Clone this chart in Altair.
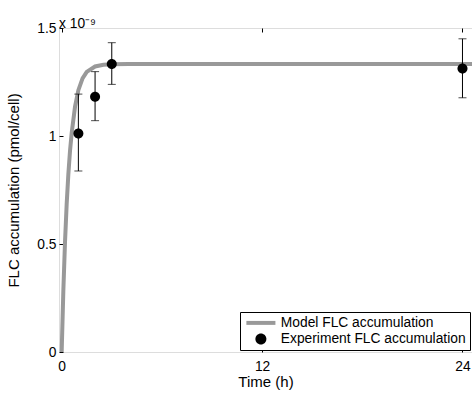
import altair as alt
import pandas as pd

# Model curve, values in units of 1e-9 pmol/cell
model_t = [0, 0.1, 0.2, 0.3, 0.4, 0.5, 0.6, 0.8, 1.0, 1.25, 1.5, 2.0, 2.5, 3.0, 4.0, 6.0, 12.0, 18.0, 24.0, 24.57]
model_v = [0, 0.284, 0.51, 0.686, 0.823, 0.931, 1.014, 1.136, 1.212, 1.267, 1.297, 1.322, 1.330, 1.332,
           1.333, 1.333, 1.333, 1.333, 1.333, 1.333]

# Experiment points with error bars
exp_t = [1, 2, 3, 24]
exp_v = [1.012, 1.182, 1.333, 1.313]
exp_lo = [0.838, 1.071, 1.239, 1.177]
exp_hi = [1.194, 1.298, 1.432, 1.45]

series_names = ["Model FLC accumulation", "Experiment FLC accumulation"]
x_ticks = [0, 12, 24]
y_ticks = [0, 0.5, 1, 1.5]

model_df = pd.DataFrame({"t": model_t, "v": model_v, "series": series_names[0]})
exp_df = pd.DataFrame({"t": exp_t, "v": exp_v, "lo": exp_lo, "hi": exp_hi, "series": series_names[1]})

FONT = "Liberation Sans"
TICK_FS = 13.8
TITLE_FS = 15

xs = alt.Scale(domain=[-0.16, 24.57], nice=False, zero=False)
ys = alt.Scale(domain=[0, 1.5], nice=False)

x_bottom = alt.Axis(values=x_ticks, orient="bottom", offset=-4, tickSize=4, domain=False, grid=False,
                    labelPadding=7, title="Time (h)", titlePadding=2, labelFontSize=TICK_FS,
                    titleFontSize=TITLE_FS, labelFont=FONT, titleFont=FONT, titleFontWeight="normal",
                    labelColor="black", titleColor="black", tickColor="black")
x_top = alt.Axis(values=x_ticks, orient="top", offset=-4, tickSize=4, domain=False, grid=False,
                 labels=False, title=None, tickColor="black")
y_left = alt.Axis(values=y_ticks, orient="left", offset=-4, tickSize=4, domain=False, grid=False,
                  labelPadding=3, format="~g", title="FLC accumulation (pmol/cell)", titlePadding=15,
                  labelFontSize=TICK_FS, titleFontSize=TITLE_FS, labelFont=FONT, titleFont=FONT,
                  titleFontWeight="normal", labelColor="black", titleColor="black", tickColor="black")

line = alt.Chart(model_df).mark_line(color="#999999", strokeWidth=4, clip=True).encode(
    x=alt.X("t:Q", scale=xs, axis=x_bottom),
    y=alt.Y("v:Q", scale=ys, axis=y_left),
)

errs = alt.Chart(exp_df).mark_rule(color="black", strokeWidth=1).encode(
    x=alt.X("t:Q", scale=xs, axis=x_top),
    y=alt.Y("lo:Q", scale=ys, axis=None),
    y2="hi:Q",
)
cap_lo = alt.Chart(exp_df).mark_tick(color="black", orient="horizontal", size=8, thickness=1).encode(
    x=alt.X("t:Q", scale=xs, axis=None),
    y=alt.Y("lo:Q", scale=ys, axis=None),
)
cap_hi = alt.Chart(exp_df).mark_tick(color="black", orient="horizontal", size=8, thickness=1).encode(
    x=alt.X("t:Q", scale=xs, axis=None),
    y=alt.Y("hi:Q", scale=ys, axis=None),
)

# legend symbols: unit size 11 px; stroke symbol 29 px long, circle 11 px across
stroke_path = "M-2.64,-0.36L2.64,-0.36L2.64,0.36L-2.64,0.36Z"
circle_path = "M1,0A1,1,0,1,1,-1,0A1,1,0,1,1,1,0Z"

legend = alt.Legend(orient="none", legendX=181, legendY=284, title=None, strokeColor="black",
                    fillColor="white", padding=4, labelFont=FONT, labelFontSize=TICK_FS,
                    labelColor="black", labelOffset=13, rowPadding=1, symbolSize=121,
                    symbolOffset=10, symbolStrokeWidth=0, cornerRadius=0, labelLimit=400)

pts = alt.Chart(exp_df).mark_point(filled=True, size=100, opacity=1, strokeWidth=0).encode(
    x=alt.X("t:Q", scale=xs, axis=None),
    y=alt.Y("v:Q", scale=ys, axis=None),
    color=alt.Color("series:N", scale=alt.Scale(domain=series_names, range=["#999999", "black"]), legend=legend),
    shape=alt.Shape("series:N", scale=alt.Scale(domain=series_names, range=[stroke_path, circle_path]), legend=legend),
)

chart = alt.layer(line, errs, cap_lo, cap_hi, pts).resolve_axis(x="independent", y="independent").properties(
    width=413, height=324,
    autosize=alt.AutoSizeParams(type="none"),
    padding={"left": 59, "top": 28, "right": 0, "bottom": 44},
    title=alt.TitleParams("x 10⁻⁹", anchor="start", frame="group", offset=3, dy=24, fontSize=TICK_FS,
                          font=FONT, fontWeight="normal", color="black", baseline="alphabetic"),
).configure_view(stroke="black", strokeWidth=1.5).configure(background="white")

chart.save("out.html", embed_options={"renderer": "svg", "actions": False})
